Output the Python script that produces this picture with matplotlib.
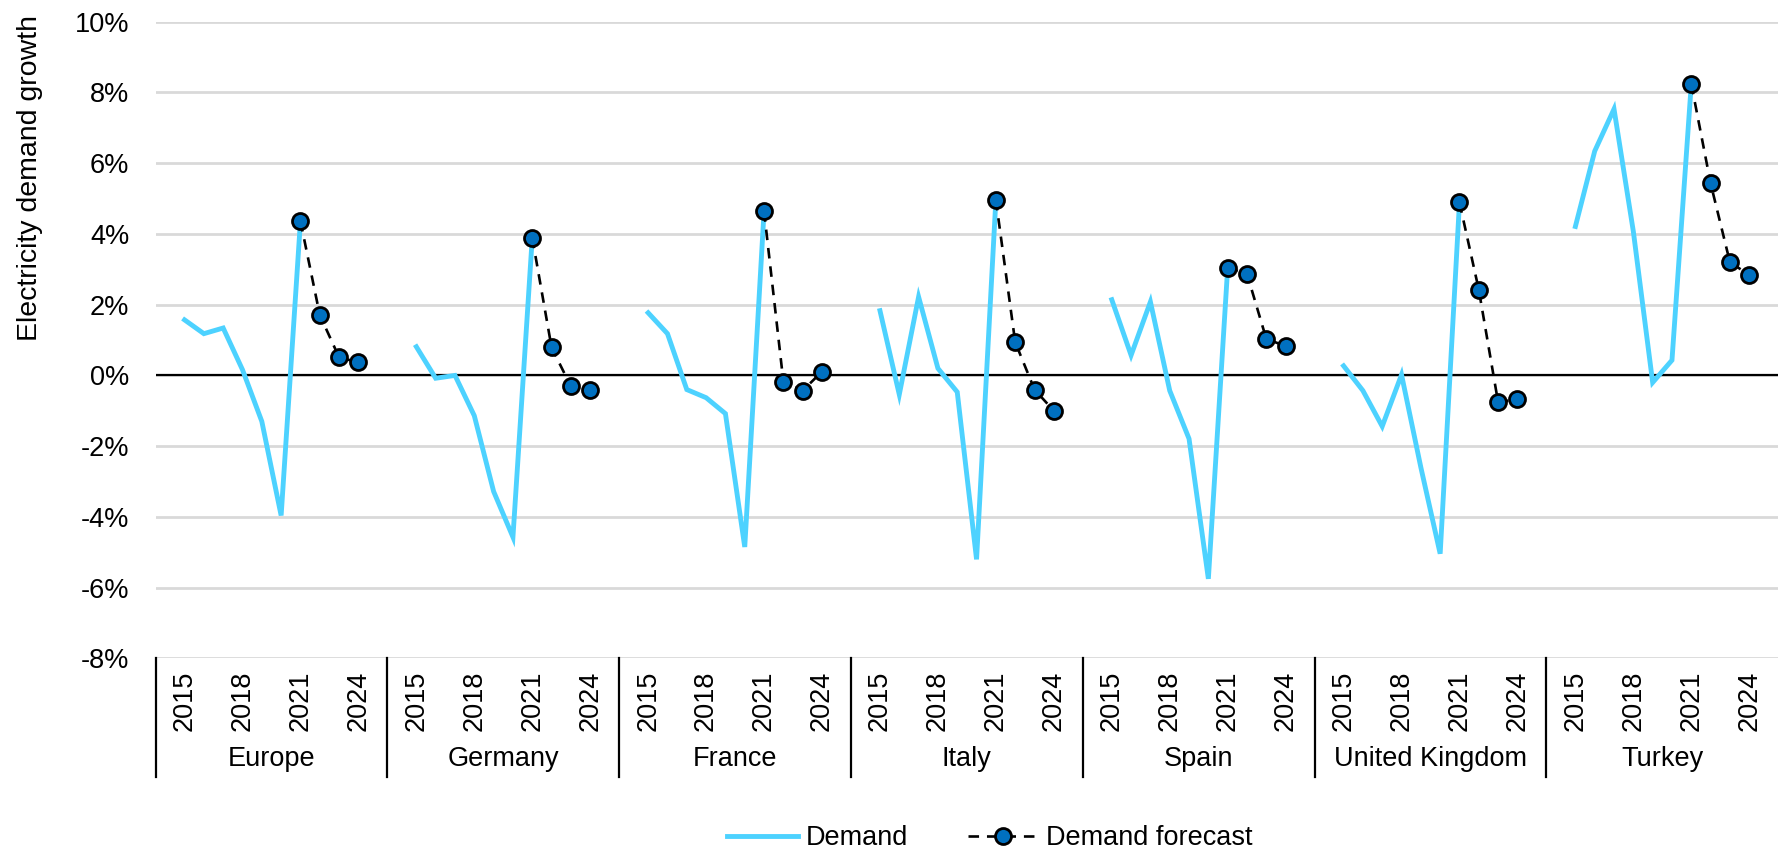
import matplotlib
matplotlib.use('Agg')
import matplotlib.pyplot as plt
import matplotlib.transforms as mtransforms
from matplotlib.lines import Line2D
from matplotlib.ticker import FuncFormatter

plt.rcParams['font.family'] = ['Liberation Sans', 'DejaVu Sans']

# data (growth in %)
countries = ['Europe', 'Germany', 'France', 'Italy', 'Spain', 'United Kingdom', 'Turkey']
years = list(range(2015, 2025))
label_years = [2015, 2018, 2021, 2024]

europe_demand = [1.57, 1.18, 1.34, 0.16, -1.30, -3.96, 4.36]
europe_forecast = [4.36, 1.71, 0.51, 0.37]
germany_demand = [0.81, -0.08, 0.00, -1.14, -3.28, -4.57, 3.89]
germany_forecast = [3.89, 0.79, -0.31, -0.41]
france_demand = [1.77, 1.18, -0.40, -0.63, -1.08, -4.85, 4.64]
france_forecast = [4.64, -0.18, -0.43, 0.11]
italy_demand = [1.83, -0.54, 2.22, 0.20, -0.47, -5.20, 4.96]
italy_forecast = [4.96, 0.94, -0.40, -1.00]
spain_demand = [2.14, 0.57, 2.08, -0.43, -1.79, -5.75, 3.04]
spain_forecast = [3.04, 2.87, 1.03, 0.83]
uk_demand = [0.27, -0.43, -1.44, 0.02, -2.60, -5.04, 4.89]
uk_forecast = [4.89, 2.42, -0.76, -0.67]
turkey_demand = [4.21, 6.34, 7.53, 4.07, -0.20, 0.43, 8.24]
turkey_forecast = [8.24, 5.43, 3.20, 2.84]

demand = [europe_demand, germany_demand, france_demand, italy_demand,
          spain_demand, uk_demand, turkey_demand]
forecast = [europe_forecast, germany_forecast, france_forecast, italy_forecast,
            spain_forecast, uk_forecast, turkey_forecast]

DEMAND_COLOR = '#4dd2ff'
MARKER_COLOR = '#0070c0'
FS = 19.5

fig = plt.figure(figsize=(17.8, 8.52), dpi=100)
ax = fig.add_axes([0.0874, 0.2272, 0.9116, 0.7474])

# each country block = blank + 10 years + blank
slots = len(years) + 2
for g in range(len(countries)):
    base = g * slots + 1.5
    xd = [base + (y - years[0]) for y in years[:len(demand[g])]]
    xf = [base + (y - years[0]) for y in years[len(demand[g]) - 1:]]
    ax.plot(xd, demand[g], color=DEMAND_COLOR, lw=3.5, solid_joinstyle='miter', zorder=3)
    ax.plot(xf, forecast[g], color='black', lw=1.9, linestyle=(0, (4, 3)),
            marker='o', markersize=11.5, markerfacecolor=MARKER_COLOR,
            markeredgecolor='black', markeredgewidth=2, zorder=4)

ax.set_xlim(0, slots * len(countries))
ax.set_ylim(-8, 10)
ax.set_yticks(range(-8, 11, 2))
ax.yaxis.set_major_formatter(FuncFormatter(lambda v, p: f'{v:.0f}%'))
ax.grid(axis='y', color='#d9d9d9', lw=2)
ax.axhline(0, color='black', lw=1.6, zorder=2)
ax.set_axisbelow(True)
for s in ax.spines.values():
    s.set_visible(False)

# year tick labels
xt, xl = [], []
for g in range(len(countries)):
    for y in label_years:
        xt.append(g * slots + 1.5 + (y - years[0]))
        xl.append(str(y))
ax.set_xticks(xt)
ax.set_xticklabels(xl, rotation=90)
ax.tick_params(axis='x', length=0, pad=9, labelsize=FS)
ax.tick_params(axis='y', length=0, pad=19, labelsize=FS)

# country labels + separators
trans = mtransforms.blended_transform_factory(ax.transData, ax.transAxes)
for g, name in enumerate(countries):
    ax.text(g * slots + slots / 2, -0.158, name, transform=trans,
            ha='center', va='center', fontsize=FS)
    ax.plot([g * slots, g * slots], [0, -0.186], transform=trans,
            color='black', lw=1.6, clip_on=False)

fig.text(30 / 1780, 1 - 178 / 852, 'Electricity demand growth', rotation=90,
         ha='center', va='center', fontsize=20.5)

handles = [
    Line2D([], [], color=DEMAND_COLOR, lw=3.5),
    Line2D([], [], color='black', lw=1.9, linestyle=(0, (4, 3)), marker='o',
           markersize=11.5, markerfacecolor=MARKER_COLOR, markeredgecolor='black',
           markeredgewidth=2),
]
fig.legend(handles, ['Demand', 'Demand forecast'], loc='center',
           bbox_to_anchor=(990 / 1780, 1 - 838 / 852), ncol=2, frameon=False,
           fontsize=FS, handlelength=2.6, handletextpad=0.3, columnspacing=2.2)

fig.savefig('out.png', dpi=100)
